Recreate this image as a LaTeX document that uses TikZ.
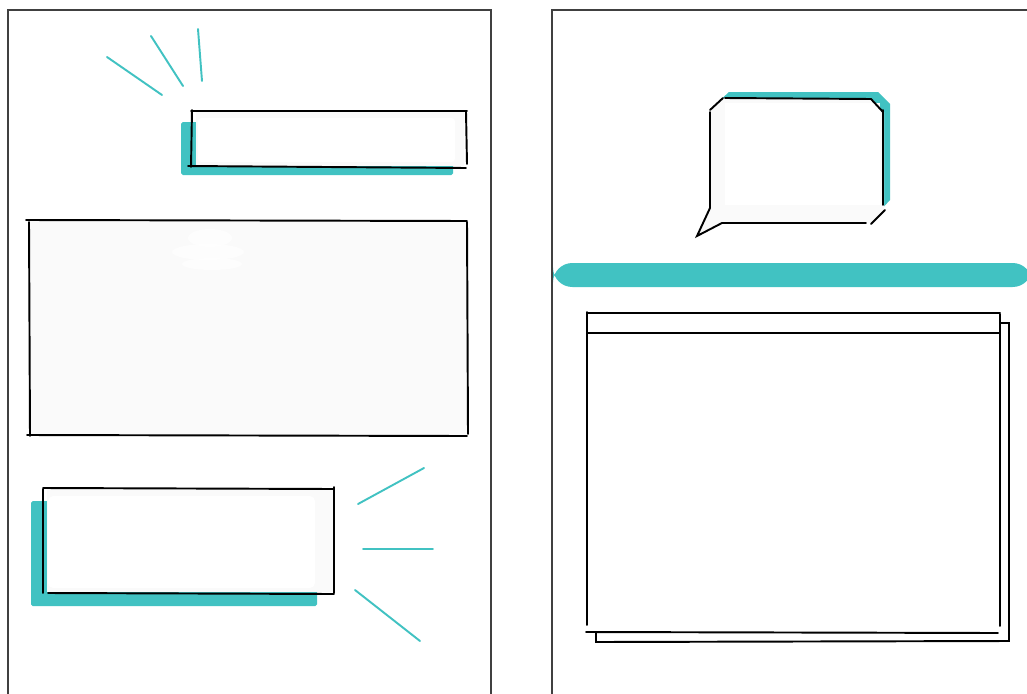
\documentclass[tikz,border=0pt]{standalone}
\usepackage{tikz}
\usepackage{xcolor}
\definecolor{tealink}{HTML}{41C2C2}
\definecolor{paper}{HTML}{FAFAFA}
\tikzset{
  ink/.style={line width=1.1pt,line cap=round,black},
  ray/.style={line width=1.1pt,line cap=round,tealink},
  page/.style={line width=0.6pt,black!75}
}
\begin{document}
\begin{tikzpicture}[x=0.02cm,y=-0.02cm]
  \useasboundingbox (0,0) rectangle (1027,693);
  \draw[page] (8,694) -- (8,10) -- (491,10) -- (491,694);
  \draw[page] (552,694) -- (552,10) -- (1028,10);
  \draw[ray] (107,57) -- (162,95);
  \draw[ray] (151,36) -- (183,86);
  \draw[ray] (198,29) -- (202,81);
  \fill[tealink,rounded corners=1] (181,122) rectangle (453,175);
  \fill[paper] (196,112) rectangle (464,166);
  \fill[white,rounded corners=2] (198,118) rectangle (455,162);
  \draw[ink] (191,111) -- (467,111);
  \draw[ink] (192,110) -- (191,167);
  \draw[ink] (466,112) -- (467,164);
  \draw[ink] (188,166) -- (466,168);
  \fill[paper] (29,221) rectangle (467,436);
  \fill[white,opacity=0.6] (210,238) ellipse (22 and 9);
  \fill[white,opacity=0.6] (208,252) ellipse (36 and 8);
  \fill[white,opacity=0.6] (212,264) ellipse (30 and 6);
  \draw[ink] (26,220) -- (467,221);
  \draw[ink] (29,222) -- (30,436);
  \draw[ink] (467,222) -- (468,434);
  \draw[ink] (27,435) -- (467,436);
  \fill[tealink,rounded corners=1] (31,501) rectangle (317,606);
  \fill[paper] (47,489) rectangle (333,592);
  \fill[white,rounded corners=3] (48,496) rectangle (315,588);
  \draw[ink] (43,488) -- (334,489);
  \draw[ink] (43,489) -- (43,593);
  \draw[ink] (334,487) -- (334,593);
  \draw[ink] (48,593) -- (334,594);
  \draw[ray] (358,504) -- (424,468);
  \draw[ray] (363,549) -- (433,549);
  \draw[ray] (355,590) -- (420,641);
  \fill[tealink] (716,104) -- (729,92) -- (878,92) -- (890,104) -- (890,200) -- (878,213) -- (728,213) -- cycle;
  \fill[paper] (710,110) -- (723,98) -- (871,98) -- (884,112) -- (884,210)
    -- (871,223) -- (722,223) -- (697,237) -- (710,207) -- cycle;
  \fill[white] (725,103) rectangle (880,205);
  \draw[ink] (710,110) -- (723,98);
  \draw[ink] (725,98) -- (871,99) -- (883,112);
  \draw[ink] (883,110) -- (883,205);
  \draw[ink] (885,210) -- (871,224);
  \draw[ink] (866,223) -- (722,223) -- (697,236) -- (710,208) -- (710,112);
  \fill[tealink,rounded corners=11] (553,263) rectangle (1032,287);
  \fill[white] (596,323) rectangle (1009,641);
  \draw[ink] (1000,323) -- (1009,323) -- (1009,641) -- (596,642) -- (596,633);
  \fill[white] (587,313) rectangle (1000,633);
  \draw[ink] (588,313) -- (1000,313);
  \draw[ink] (588,333) -- (1000,333);
  \draw[ink] (587,312) -- (587,625);
  \draw[ink] (1000,314) -- (1000,626);
  \draw[ink] (586,632) -- (998,633);
\end{tikzpicture}
\end{document}
